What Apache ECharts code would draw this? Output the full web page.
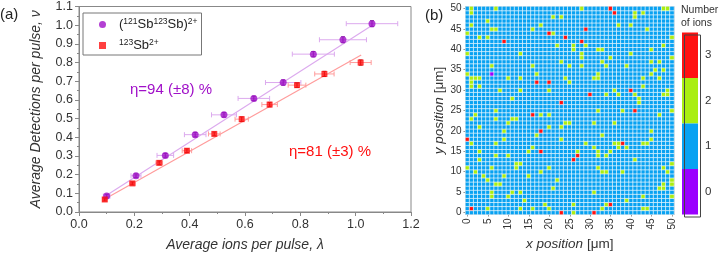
<!DOCTYPE html>
<html>
<head>
<meta charset="utf-8">
<script src="https://cdn.jsdelivr.net/npm/echarts@6/dist/echarts.min.js"></script>
<style>html,body{margin:0;padding:0;background:#fff}#main{width:720px;height:257px}</style>
</head>
<body>
<div id="main"></div>
<script>
// ---- panel (a): detections vs ions per pulse ----
var dimerName = '(121Sb123Sb)2+';
var monoName = '123Sb2+';
// [lambda, detections, x error, y error]
var dimerPoints = [
  [0.100, 0.085, 0.012, 0.010],
  [0.206, 0.194, 0.018, 0.010],
  [0.312, 0.303, 0.030, 0.010],
  [0.420, 0.414, 0.039, 0.012],
  [0.524, 0.520, 0.045, 0.012],
  [0.632, 0.608, 0.057, 0.012],
  [0.738, 0.693, 0.064, 0.014],
  [0.847, 0.845, 0.076, 0.014],
  [0.954, 0.922, 0.085, 0.016],
  [1.059, 1.008, 0.093, 0.016]
];
var monoPoints = [
  [0.093, 0.067, 0.008, 0.008],
  [0.193, 0.153, 0.010, 0.008],
  [0.290, 0.263, 0.012, 0.010],
  [0.390, 0.328, 0.017, 0.010],
  [0.489, 0.418, 0.021, 0.010],
  [0.588, 0.497, 0.024, 0.012],
  [0.689, 0.575, 0.028, 0.012],
  [0.788, 0.679, 0.032, 0.012],
  [0.887, 0.739, 0.035, 0.014],
  [1.018, 0.800, 0.038, 0.014]
];
var dimerFit = [[0.10, 0.090], [1.06, 1.000]];
var monoFit = [[0.10, 0.075], [1.02, 0.840]];
var dimerEta = 'η=94 (±8) %';
var monoEta = 'η=81 (±3) %';

// ---- panel (b): ions per site on the 51 x 51 grid (all other sites hold 1) ----
var gridPositions = Array.from({length: 51}, function (_, i) { return String(i); });
var baseCount = 1;
var zeroIonCells = [[6, 34]];
var threeIonCells = [
  [35, 50], [36, 49], [29, 45], [20, 44], [24, 43], [9, 42], [28, 42], [17, 32], [20, 32],
  [40, 30], [30, 29], [23, 27], [16, 24], [41, 25], [18, 20], [0, 18], [38, 17], [18, 15],
  [27, 14], [26, 13], [1, 1], [35, 2], [23, 0], [31, 0]
];
var twoIonCells = [
  [1, 50], [7, 50], [1, 49], [21, 48], [23, 48], [5, 47], [1, 46], [18, 46], [6, 45], [7, 45],
  [16, 45], [0, 44], [21, 44], [3, 43], [5, 43], [22, 41], [0, 39], [13, 39], [23, 37], [6, 36],
  [16, 36], [0, 34], [17, 34], [1, 33], [2, 33], [3, 33], [10, 33], [13, 33], [24, 33], [1, 32],
  [1, 31], [3, 31], [8, 30], [13, 30], [20, 30], [11, 28], [7, 25],
  [2, 24], [18, 24], [20, 24], [1, 23], [7, 23], [11, 23], [12, 23], [10, 22], [24, 22], [3, 21],
  [20, 21], [23, 21], [9, 20], [17, 19], [9, 18], [23, 18], [1, 17], [7, 17], [16, 16], [15, 15],
  [3, 15], [10, 14], [7, 14], [3, 13], [12, 12], [13, 12], [0, 11], [6, 11], [12, 11], [20, 11],
  [2, 10], [18, 10], [4, 9], [9, 9], [15, 9], [5, 8], [22, 8], [7, 7], [8, 7], [21, 6], [6, 5],
  [11, 5], [13, 5], [6, 4], [10, 4], [14, 3], [19, 2], [5, 1], [13, 1], [16, 1], [20, 1],
  [32, 25], [38, 25], [47, 24], [50, 25], [25, 22], [31, 22], [36, 22], [33, 19], [45, 20],
  [45, 18], [29, 17], [36, 17], [37, 17], [43, 17], [44, 17], [31, 16], [37, 16], [39, 16],
  [32, 15], [35, 15], [27, 15], [32, 14], [34, 14], [41, 13], [50, 12], [32, 11], [48, 11],
  [33, 10], [34, 10], [38, 10], [49, 10], [31, 5], [43, 4], [47, 6], [48, 6], [48, 7], [50, 8],
  [50, 7], [50, 4], [39, 3], [34, 2], [26, 2], [33, 1], [43, 1], [44, 1], [26, 0],
  [28, 50], [48, 50], [49, 50], [41, 49], [43, 49], [41, 48], [37, 46], [40, 46], [44, 45],
  [50, 43], [26, 41], [29, 41], [48, 41], [26, 40], [32, 40], [33, 40], [45, 40], [40, 39],
  [28, 39], [35, 38], [50, 38], [28, 38], [33, 37], [45, 37], [47, 37], [25, 36], [28, 36],
  [34, 36], [39, 36], [46, 35], [48, 35], [45, 34], [32, 34], [31, 33], [32, 33], [43, 33],
  [47, 33], [25, 32], [43, 31], [36, 30], [49, 30], [34, 29], [37, 29], [41, 29], [48, 29],
  [49, 29], [42, 28], [42, 27]
];
var ionCounts = ['0', '1', '2', '3'];

var colors = {
  dimer: '#a010c8', dimerLight: '#dcaaee',
  mono: '#ff1010', monoLight: '#ff9c9c',
  n0: '#9a00ff', n1: '#08a2f2', n2: '#aaee11', n3: '#ff1111'
};

var cellValue = {};
zeroIonCells.forEach(function (c) { cellValue[c[0] + ',' + c[1]] = 0; });
twoIonCells.forEach(function (c) { cellValue[c[0] + ',' + c[1]] = 2; });
threeIonCells.forEach(function (c) { cellValue[c[0] + ',' + c[1]] = 3; });
var heatData = [];
for (var i = 0; i < gridPositions.length; i++) {
  for (var j = 0; j < gridPositions.length; j++) {
    var v = cellValue[i + ',' + j];
    heatData.push([i, j, v === undefined ? baseCount : v]);
  }
}

function errorBars(points, color, capColor) {
  return {
    type: 'custom',
    xAxisIndex: 0,
    yAxisIndex: 0,
    data: points,
    z: 2,
    silent: true,
    renderItem: function (params, api) {
      var x = api.value(0), y = api.value(1), ex = api.value(2), ey = api.value(3);
      var l = api.coord([x - ex, y]), r = api.coord([x + ex, y]);
      var b = api.coord([x, y - ey]), t = api.coord([x, y + ey]);
      var cap = 2.5;
      var st = {stroke: color, lineWidth: 1};
      var st2 = {stroke: capColor, lineWidth: 1};
      return {
        type: 'group',
        children: [
          {type: 'line', shape: {x1: l[0], y1: l[1], x2: r[0], y2: r[1]}, style: st},
          {type: 'line', shape: {x1: l[0], y1: l[1] - cap, x2: l[0], y2: l[1] + cap}, style: st},
          {type: 'line', shape: {x1: r[0], y1: r[1] - cap, x2: r[0], y2: r[1] + cap}, style: st},
          {type: 'line', shape: {x1: b[0], y1: b[1], x2: t[0], y2: t[1]}, style: st2},
          {type: 'line', shape: {x1: t[0] - 2, y1: t[1], x2: t[0] + 2, y2: t[1]}, style: st2},
          {type: 'line', shape: {x1: b[0] - 2, y1: b[1], x2: b[0] + 2, y2: b[1]}, style: st2}
        ]
      };
    }
  };
}

var font = 'Liberation Sans, Arial, sans-serif';
var chart = echarts.init(document.getElementById('main'));

var option = {
  animation: false,
  textStyle: {fontFamily: font},
  title: [
    {text: '(a)', left: 0, top: 7, padding: 0, textStyle: {fontSize: 15, fontWeight: 'normal', color: '#222', fontFamily: font}},
    {text: '(b)', left: 425, top: 8, padding: 0, textStyle: {fontSize: 15, fontWeight: 'normal', color: '#222', fontFamily: font}},
    {text: 'Number\nof ions', left: 681, top: 4, padding: 0, textStyle: {fontSize: 10.5, lineHeight: 13, fontWeight: 'normal', color: '#333', fontFamily: font}}
  ],
  legend: {
    left: 83, top: 13,
    orient: 'vertical',
    data: [{name: dimerName, icon: 'circle'}, {name: monoName, icon: 'rect'}],
    itemWidth: 7, itemHeight: 7, itemGap: 7,
    padding: [4, 4, 3, 16],
    borderColor: '#777', borderWidth: 1, borderRadius: 0,
    backgroundColor: '#fff',
    selectedMode: false,
    formatter: function (name) {
      if (name === dimerName) return '{n|(}{s|121}{n|Sb}{s|123}{n|Sb)}{s|2+}';
      return '{s|123}{n|Sb}{s|2+}';
    },
    textStyle: {
      color: '#222',
      padding: [0, 0, 0, 8],
      rich: {
        n: {fontSize: 13, lineHeight: 15, fontFamily: font, color: '#222'},
        s: {fontSize: 8.5, lineHeight: 15, verticalAlign: 'top', fontFamily: font, color: '#222'}
      }
    }
  },
  grid: [
    {left: 79, right: 309, top: 5, bottom: 43, show: true, borderColor: '#888', borderWidth: 1, containLabel: false},
    {left: 465.5, right: 46, top: 6.5, bottom: 42.5, show: true, borderColor: '#888', borderWidth: 1, containLabel: false}
  ],
  xAxis: [
    {
      type: 'value', gridIndex: 0, min: 0, max: 1.2, interval: 0.2,
      name: 'Average ions per pulse, λ', nameLocation: 'middle', nameGap: 26,
      nameTextStyle: {fontSize: 14, fontStyle: 'italic', color: '#333', fontFamily: font},
      axisLine: {show: true, lineStyle: {color: '#888'}},
      axisTick: {show: true, length: 4, lineStyle: {color: '#888'}},
      minorTick: {show: true, splitNumber: 2, length: 2, lineStyle: {color: '#888'}},
      splitLine: {show: false},
      axisLabel: {fontSize: 12.5, color: '#333', margin: 6, formatter: function (v) { return v.toFixed(1); }}
    },
    {
      type: 'category', gridIndex: 1, data: gridPositions,
      name: '{i|x position} [μm]', nameLocation: 'middle', nameGap: 18,
      nameTextStyle: {fontSize: 13.5, color: '#333', fontFamily: font, rich: {i: {fontSize: 13.5, fontStyle: 'italic', color: '#333', fontFamily: font}}},
      axisLine: {show: true, lineStyle: {color: '#888'}},
      axisTick: {show: true, alignWithLabel: true, length: 2, interval: 4, lineStyle: {color: '#888'}},
      splitLine: {show: false},
      axisLabel: {fontSize: 10, color: '#333', margin: 4, rotate: 90, interval: 4}
    }
  ],
  yAxis: [
    {
      type: 'value', gridIndex: 0, min: 0, max: 1.1, interval: 0.1,
      name: 'Average Detections per pulse, ν', nameLocation: 'middle', nameGap: 36,
      nameTextStyle: {fontSize: 14, fontStyle: 'italic', color: '#333', fontFamily: font},
      axisLine: {show: true, lineStyle: {color: '#888'}},
      axisTick: {show: true, length: 4, lineStyle: {color: '#888'}},
      minorTick: {show: true, splitNumber: 2, length: 2, lineStyle: {color: '#888'}},
      splitLine: {show: false},
      axisLabel: {fontSize: 12.5, color: '#333', margin: 6, formatter: function (v) { return v.toFixed(1); }}
    },
    {
      type: 'category', gridIndex: 1, data: gridPositions,
      name: '{i|y position} [μm]', nameLocation: 'middle', nameGap: 14,
      nameTextStyle: {fontSize: 13.5, color: '#333', fontFamily: font, rich: {i: {fontSize: 13.5, fontStyle: 'italic', color: '#333', fontFamily: font}}},
      axisLine: {show: true, lineStyle: {color: '#888'}},
      axisTick: {show: true, alignWithLabel: true, length: 2, interval: 4, lineStyle: {color: '#888'}},
      splitLine: {show: false},
      axisLabel: {fontSize: 10, color: '#333', margin: 4, interval: 4}
    }
  ],
  visualMap: {
    type: 'piecewise',
    seriesIndex: 6,
    left: 682, top: 32.5,
    orient: 'vertical',
    itemSymbol: 'rect',
    itemWidth: 16, itemHeight: 45.5, itemGap: 0, textGap: 7,
    padding: 0,
    align: 'left',
    selectedMode: false,
    pieces: ionCounts.map(function (c) {
      return {value: Number(c), label: c, color: colors['n' + c]};
    }),
    textStyle: {fontSize: 11.5, color: '#333', fontFamily: font}
  },
  graphic: [
    {type: 'rect', left: 682, top: 32.5, shape: {width: 16, height: 182}, style: {fill: 'none', stroke: '#444', lineWidth: 1}, z: 100},
    {type: 'text', left: 130, top: 82, style: {text: dimerEta, fill: colors.dimer, font: '15px ' + font}},
    {type: 'text', left: 289, top: 144, style: {text: monoEta, fill: colors.mono, font: '15px ' + font}}
  ],
  series: [
    {type: 'line', xAxisIndex: 0, yAxisIndex: 0, data: dimerFit, showSymbol: false, symbol: 'none', lineStyle: {color: colors.dimerLight, width: 1.2}, z: 1, silent: true},
    {type: 'line', xAxisIndex: 0, yAxisIndex: 0, data: monoFit, showSymbol: false, symbol: 'none', lineStyle: {color: colors.monoLight, width: 1.2}, z: 1, silent: true},
    errorBars(dimerPoints, colors.dimerLight, '#7a2a90'),
    errorBars(monoPoints, colors.monoLight, '#b01010'),
    {name: dimerName, type: 'scatter', xAxisIndex: 0, yAxisIndex: 0, symbol: 'circle', symbolSize: 7,
      data: dimerPoints.map(function (p) { return [p[0], p[1]]; }), itemStyle: {color: colors.dimer}, z: 3},
    {name: monoName, type: 'scatter', xAxisIndex: 0, yAxisIndex: 0, symbol: 'rect', symbolSize: 6,
      data: monoPoints.map(function (p) { return [p[0], p[1]]; }), itemStyle: {color: colors.mono}, z: 3},
    {type: 'heatmap', xAxisIndex: 1, yAxisIndex: 1, data: heatData,
      itemStyle: {borderColor: 'rgba(255,255,255,0.8)', borderWidth: 0.8},
      emphasis: {disabled: true}}
  ]
};

chart.setOption(option);
</script>
</body>
</html>
